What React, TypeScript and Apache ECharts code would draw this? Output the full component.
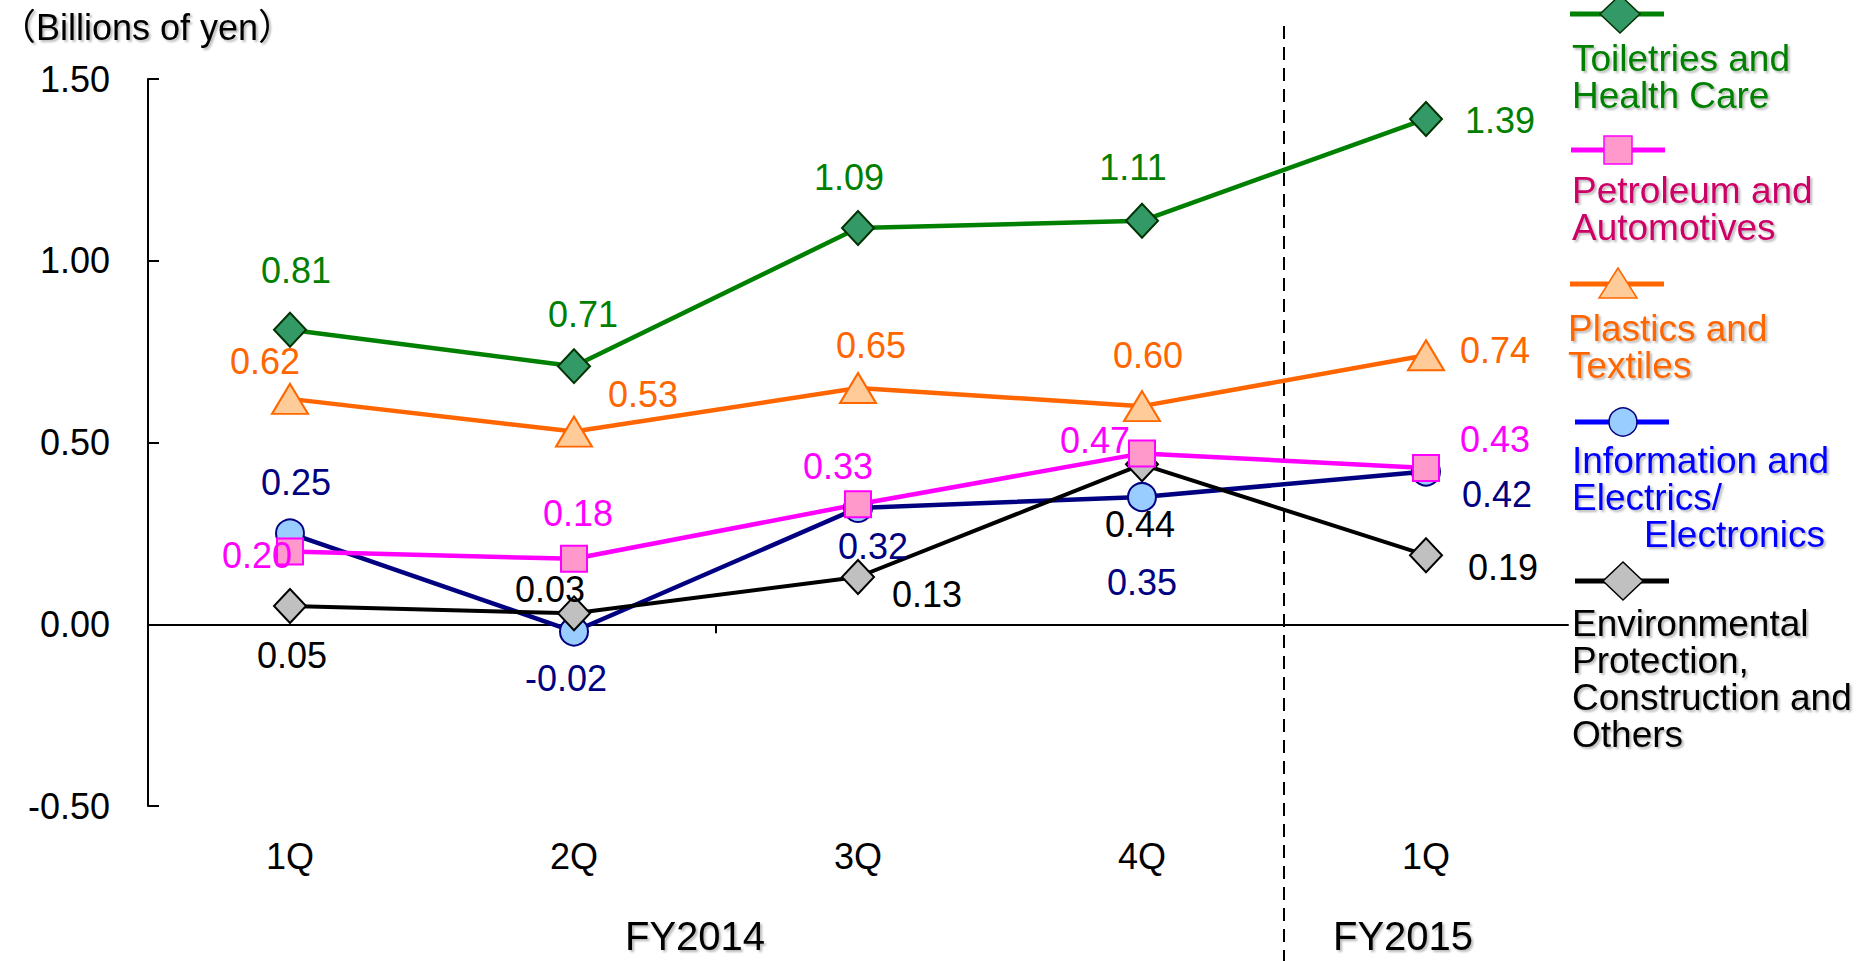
import React, { useEffect, useRef } from "react";
import * as echarts from "echarts";

// ---------- data ----------
const CATEGORIES = ["1Q", "2Q", "3Q", "4Q", "1Q"];
const FISCAL_YEARS = ["FY2014", "FY2015"];
const Y_TICKS = { min: -0.5, max: 1.5, interval: 0.5 };
const UNIT_LABEL = "（Billions of yen）";

const TOILETRIES = [0.81, 0.71, 1.09, 1.11, 1.39];
const PETROLEUM = [0.2, 0.18, 0.33, 0.47, 0.43];
const PLASTICS = [0.62, 0.53, 0.65, 0.6, 0.74];
const INFORMATION = [0.25, -0.02, 0.32, 0.35, 0.42];
const ENVIRONMENTAL = [0.05, 0.03, 0.13, 0.44, 0.19];

const NAMES = {
  toiletries: "Toiletries and\nHealth Care",
  petroleum: "Petroleum and\nAutomotives",
  plastics: "Plastics and\nTextiles",
  information: "Information and\nElectrics/\n       Electronics",
  environmental: "Environmental\nProtection,\nConstruction and\nOthers",
};

// ---------- layout / style ----------
const W = 1860;
const H = 961;
const GRID_LEFT = 148;
const GRID_RIGHT_X = 1568;
const GRID_TOP = 79;
const GRID_BOTTOM_Y = 806;
const FONT = "'Liberation Sans', Arial, sans-serif";
const SHADOW = {
  textShadowColor: "rgba(0,0,0,0.28)",
  textShadowBlur: 2,
  textShadowOffsetX: 2,
  textShadowOffsetY: 2,
};

const OFFSETS = {
  toiletries: [[6, -59], [9, -52], [-9, -51], [-9, -53], [74, 2]],
  petroleum: [[-33, 4], [4, -45], [-20, -38], [-47, -13], [69, -28]],
  plastics: [[-25, -37], [69, -37], [13, -42], [6, -51], [69, -5]],
  information: [[6, -51], [-8, 47], [15, 39], [0, 85], [71, 23]],
  environmental: [[2, 49], [-24, -24], [69, 18], [-2, 60], [77, 12]],
};

function makeSeries(
  name: string,
  values: number[],
  offsets: number[][],
  lineColor: string,
  fill: string,
  border: string,
  labelColor: string,
  symbol: string,
  symbolSize: number | number[],
  lineWidth: number
) {
  return {
    name,
    type: "line",
    xAxisIndex: 0,
    yAxisIndex: 0,
    symbol,
    symbolSize,
    lineStyle: { color: lineColor, width: lineWidth },
    itemStyle: { color: fill, borderColor: border, borderWidth: 2 },
    label: {
      show: true,
      position: "inside",
      fontSize: 36,
      fontFamily: FONT,
      color: labelColor,
      formatter: (p: any) => Number(p.value).toFixed(2),
    },
    data: values.map((v, i) => ({ value: v, label: { offset: offsets[i] } })),
  };
}

export default function App() {
  const ref = useRef<HTMLDivElement>(null);

  useEffect(() => {
    if (!ref.current) return;
    const chart = echarts.init(ref.current, null, { renderer: "svg" });

    const band = (GRID_RIGHT_X - GRID_LEFT) / CATEGORIES.length;
    const dividerX = GRID_LEFT + band * 4;
    const tickX = GRID_LEFT + band * 2;
    const zeroY =
      GRID_TOP + ((Y_TICKS.max - 0) / (Y_TICKS.max - Y_TICKS.min)) * (GRID_BOTTOM_Y - GRID_TOP);

    const legendItems = [
      { text: NAMES.toiletries, line: "#008000", textColor: "#008000", y: 14, x1: 1570, x2: 1664, cx: 1620, textX: 1572, textTop: 39.5, shape: "diamond", fill: "#339966", border: "#003300" },
      { text: NAMES.petroleum, line: "#FF00FF", textColor: "#CC0066", y: 150, x1: 1571, x2: 1665, cx: 1618, textX: 1572, textTop: 171.5, shape: "square", fill: "#FF99CC", border: "#FF00FF" },
      { text: NAMES.plastics, line: "#FF6600", textColor: "#FF6600", y: 284, x1: 1570, x2: 1664, cx: 1618, textX: 1568, textTop: 309.5, shape: "triangle", fill: "#FFCC99", border: "#FF6600" },
      { text: NAMES.information, line: "#0000FF", textColor: "#0000FF", y: 422, x1: 1575, x2: 1669, cx: 1623, textX: 1572, textTop: 441.5, shape: "circle", fill: "#99CCFF", border: "#000080" },
      { text: NAMES.environmental, line: "#000000", textColor: "#000000", y: 581, x1: 1575, x2: 1669, cx: 1623, textX: 1572, textTop: 604.5, shape: "diamond", fill: "#C0C0C0", border: "#000000" },
    ];

    const legendGraphics: any[] = [];
    legendItems.forEach((it) => {
      legendGraphics.push({
        type: "line",
        shape: { x1: it.x1, y1: it.y, x2: it.x2, y2: it.y },
        style: { stroke: it.line, lineWidth: 5 },
      });
      let sym: any;
      if (it.shape === "diamond") {
        sym = {
          type: "polygon",
          shape: { points: [[it.cx, it.y - 19], [it.cx + 20, it.y], [it.cx, it.y + 19], [it.cx - 20, it.y]] },
        };
      } else if (it.shape === "square") {
        sym = { type: "rect", shape: { x: it.cx - 14, y: it.y - 14, width: 28, height: 28 } };
      } else if (it.shape === "triangle") {
        sym = {
          type: "polygon",
          shape: { points: [[it.cx, it.y - 16], [it.cx + 19, it.y + 14], [it.cx - 19, it.y + 14]] },
        };
      } else {
        sym = { type: "circle", shape: { cx: it.cx, cy: it.y, r: 14 } };
      }
      sym.style = { fill: it.fill, stroke: it.border, lineWidth: 1.5 };
      legendGraphics.push(sym);
      legendGraphics.push({
        type: "text",
        x: it.textX,
        y: it.textTop,
        style: {
          text: it.text,
          fill: it.textColor,
          font: `37px ${FONT}`,
          lineHeight: 37,
          textAlign: "left",
          textVerticalAlign: "top",
          ...SHADOW,
        },
      });
    });

    const option: any = {
      animation: false,
      grid: {
        left: GRID_LEFT,
        right: W - GRID_RIGHT_X,
        top: GRID_TOP,
        bottom: H - GRID_BOTTOM_Y,
        containLabel: false,
      },
      xAxis: [
        {
          type: "category",
          data: CATEGORIES,
          boundaryGap: true,
          position: "bottom",
          axisLine: { show: true, onZero: true, lineStyle: { color: "#000", width: 2 } },
          axisTick: { show: false },
          axisLabel: { show: false },
          splitLine: { show: false },
        },
        {
          type: "category",
          data: CATEGORIES,
          boundaryGap: true,
          position: "bottom",
          axisLine: { show: false, onZero: false },
          axisTick: { show: false },
          axisLabel: { show: true, interval: 0, margin: 32, fontSize: 36, fontFamily: FONT, color: "#000" },
          splitLine: { show: false },
        },
      ],
      yAxis: {
        type: "value",
        min: Y_TICKS.min,
        max: Y_TICKS.max,
        interval: Y_TICKS.interval,
        axisLine: { show: true, lineStyle: { color: "#000", width: 2 } },
        axisTick: { show: true, inside: true, length: 11, lineStyle: { color: "#000", width: 2 } },
        axisLabel: {
          margin: 38,
          fontSize: 36,
          fontFamily: FONT,
          color: "#000",
          formatter: (v: number) => v.toFixed(2),
        },
        splitLine: { show: false },
      },
      series: [
        makeSeries(NAMES.toiletries, TOILETRIES, OFFSETS.toiletries, "#008000", "#339966", "#003300", "#008000", "diamond", [32, 34], 4.5),
        makeSeries(NAMES.plastics, PLASTICS, OFFSETS.plastics, "#FF6600", "#FFCC99", "#FF6600", "#FF6600", "triangle", [36, 30], 4.5),
        makeSeries(NAMES.information, INFORMATION, OFFSETS.information, "#000080", "#99CCFF", "#000080", "#000080", "circle", 28, 4.5),
        makeSeries(NAMES.environmental, ENVIRONMENTAL, OFFSETS.environmental, "#000000", "#C0C0C0", "#000000", "#000000", "diamond", [32, 34], 4),
        makeSeries(NAMES.petroleum, PETROLEUM, OFFSETS.petroleum, "#FF00FF", "#FF99CC", "#FF00FF", "#FF00FF", "rect", 26, 4.5),
      ],
      graphic: [
        {
          type: "line",
          shape: { x1: tickX, y1: zeroY, x2: tickX, y2: zeroY + 9 },
          style: { stroke: "#000", lineWidth: 2 },
        },
        {
          type: "line",
          shape: { x1: dividerX, y1: 26, x2: dividerX, y2: H },
          style: { stroke: "#000", lineWidth: 2, lineDash: [13, 8] },
        },
        {
          type: "text",
          x: 0,
          y: 27,
          style: {
            text: UNIT_LABEL,
            fill: "#000",
            font: `36px 'Liberation Sans', 'Noto Sans CJK JP', sans-serif`,
            textAlign: "left",
            textVerticalAlign: "middle",
            ...SHADOW,
          },
        },
        {
          type: "text",
          x: 695,
          y: 936,
          style: {
            text: FISCAL_YEARS[0],
            fill: "#000",
            font: `40px ${FONT}`,
            textAlign: "center",
            textVerticalAlign: "middle",
            ...SHADOW,
          },
        },
        {
          type: "text",
          x: 1403,
          y: 936,
          style: {
            text: FISCAL_YEARS[1],
            fill: "#000",
            font: `40px ${FONT}`,
            textAlign: "center",
            textVerticalAlign: "middle",
            ...SHADOW,
          },
        },
        ...legendGraphics,
      ],
    };

    chart.setOption(option);
    return () => chart.dispose();
  }, []);

  return (
    <div
      ref={ref}
      style={{ position: "absolute", left: 0, top: 0, width: W, height: H, background: "#fff" }}
    />
  );
}
